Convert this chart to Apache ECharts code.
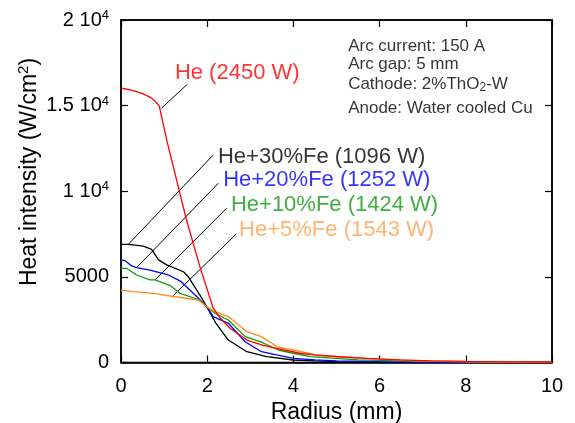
<!DOCTYPE html>
<html><head><meta charset="utf-8">
<script src="https://cdn.jsdelivr.net/npm/echarts@6/dist/echarts.min.js"></script>
<style>html,body{margin:0;padding:0;background:#fff}#c{width:575px;height:423px}</style>
</head><body><div id="c"></div>
<script>
// ---- data ----
const heR   = [0, 0.05, 0.25, 0.5, 0.67, 0.8, 0.89, 1.06, 1.29, 1.52, 1.83, 2.14, 2.3, 2.53, 2.92, 3.3, 3.61, 4.15, 4.5, 5.0, 5.7, 6.47, 7.2, 8.0, 9.0, 10];
const heV   = [16050, 16000, 15900, 15700, 15500, 15250, 14950, 13000, 10660, 8320, 5600, 3170, 2600, 2000, 1310, 1000, 830, 540, 450, 350, 245, 150, 100, 60, 40, 30];
const fe30R = [0, 0.17, 0.52, 0.71, 0.87, 1.06, 1.45, 1.56, 1.83, 1.99, 2.2, 2.49, 2.92, 3.38, 3.99, 4.5, 5.0, 6.0, 7.0, 8.0, 10];
const fe30V = [6900, 6900, 6800, 6610, 5990, 5700, 5300, 5010, 3940, 3260, 2300, 1310, 630, 340, 146, 90, 50, 20, 10, 0, 0];
const fe20R = [0, 0.09, 0.25, 0.36, 0.67, 1.1, 1.4, 1.76, 1.99, 2.14, 2.49, 2.88, 3.26, 3.61, 4.0, 4.5, 5.0, 6.0, 7.6, 10];
const fe20V = [5990, 5950, 5640, 5540, 5400, 5110, 4720, 3840, 3260, 2680, 2290, 1215, 630, 440, 245, 150, 100, 50, 0, 0];
const fe10R = [0, 0.13, 0.25, 0.36, 0.67, 0.79, 1.14, 1.37, 1.83, 1.99, 2.18, 2.49, 2.88, 3.23, 3.65, 4.0, 4.4, 5.5, 6.5, 8.0, 10];
const fe10V = [5500, 5500, 5300, 5110, 4820, 4820, 4490, 4040, 3650, 3260, 2870, 2480, 1510, 1215, 730, 540, 340, 150, 100, 50, 10];
const fe5R  = [0, 0.29, 0.75, 1.25, 1.79, 1.99, 2.18, 2.49, 2.92, 3.26, 3.65, 4.0, 4.6, 5.3, 6.0, 7.0, 8.5, 10];
const fe5V  = [4230, 4140, 4040, 3840, 3650, 3260, 2970, 2680, 1800, 1510, 890, 730, 400, 280, 200, 80, 30, 0];

const seriesNames  = ['He (2450 W)', 'He+30%Fe (1096 W)', 'He+20%Fe (1252 W)', 'He+10%Fe (1424 W)', 'He+5%Fe (1543 W)'];
const seriesColors = ['#ff0000', '#000000', '#0000ff', '#119911', '#ff8c1a'];
const labelColors  = ['#ff0000', '#000000', '#0000ff', '#119911', '#ffa04d'];
// leader lines: [r0, v0, r1, v1]
const leaderR0 = [0.94, 0.17, 0.36, 0.79, 1.21];
const leaderV0 = [14850, 6900, 5540, 4820, 3900];
const leaderR1 = [1.54, 2.14, 2.26, 2.45, 2.67];
const leaderV1 = [16250, 12120, 10470, 9010, 7490];
// label anchors (left-middle)
const labelR = [1.25, 2.25, 2.37, 2.55, 2.74];
const labelV = [16910, 12000, 10660, 9200, 7740];

const xTicks = [0, 2, 4, 6, 8, 10];
const yTickVals = [0, 5000, 10000, 15000, 20000];
const yTickBase = ['0', '5000', '1 10', '1.5 10', '2 10'];
const yTickExp  = ['', '', '4', '4', '4'];

const noteLines = ['Arc current: 150 A', 'Arc gap: 5 mm', '{t|Cathode: 2%ThO}{sub|2}{t|-W}', 'Anode: Water cooled Cu'];
const noteR = [5.27, 5.27, 5.27, 5.27];
const noteV = [18480, 17420, 16250, 14850];

// ---- chart ----
const zip = (a, b) => a.map((x, i) => [x, b[i]]);
const curves = [zip(heR, heV), zip(fe30R, fe30V), zip(fe20R, fe20V), zip(fe10R, fe10V), zip(fe5R, fe5V)];
const FONT = 'Liberation Sans, Arial, sans-serif';

const series = [];
[1, 2, 3, 4, 0].forEach(i => {
  series.push({
    type: 'line', name: seriesNames[i], data: curves[i], showSymbol: false, symbol: 'none',
    lineStyle: { color: seriesColors[i], width: 1.3 }, z: 3, animation: false
  });
});
leaderR0.forEach((r, i) => {
  series.push({
    type: 'line', data: [[r, leaderV0[i]], [leaderR1[i], leaderV1[i]]], showSymbol: false, symbol: 'none',
    lineStyle: { color: '#000', width: 1 }, z: 2, animation: false
  });
});
series.push({
  type: 'scatter', symbolSize: 0, animation: false, silent: true,
  data: labelR.map((r, i) => ({ value: [r, labelV[i]], label: { color: labelColors[i] }, name: seriesNames[i] })),
  label: { show: true, position: 'right', distance: 0, formatter: p => p.name, fontSize: 22, fontFamily: FONT },
  z: 5
});
series.push({
  type: 'scatter', symbolSize: 0, animation: false, silent: true,
  data: noteR.map((r, i) => ({ value: [r, noteV[i]], name: noteLines[i] })),
  label: { show: true, position: 'right', distance: 0, formatter: p => p.name.indexOf('{') === 0 ? p.name : '{t|' + p.name + '}',
    rich: { t: { fontSize: 17, fontFamily: FONT, color: '#000' }, sub: { fontSize: 12, fontFamily: FONT, color: '#000', verticalAlign: 'bottom', padding: [7, 0, 0, 0] } } },
  z: 5
});

const axisLine = () => ({ show: true, onZero: false, lineStyle: { color: '#000', width: 1.5 } });
const tick = () => ({ inside: true, length: 7, lineStyle: { color: '#000', width: 1.2 } });
const option = {
  animation: false,
  grid: { left: 121, right: 23, top: 20, bottom: 60.5, containLabel: false, outerBoundsMode: 'none',
          show: true, borderColor: '#000', borderWidth: 1.5, backgroundColor: 'transparent' },
  xAxis: [
    { type: 'value', min: 0, max: 10, interval: 2, position: 'bottom', axisLine: axisLine(), splitLine: { show: false }, axisTick: tick(),
      axisLabel: { fontSize: 20, fontFamily: FONT, color: '#000', margin: 14, formatter: v => xTicks.includes(v) ? String(v) : '' },
      name: 'Radius (mm)', nameLocation: 'middle', nameGap: 37, nameTextStyle: { fontSize: 23, fontFamily: FONT, color: '#000' } },
    { type: 'value', min: 0, max: 10, interval: 2, position: 'top', axisLine: axisLine(), splitLine: { show: false }, axisTick: tick(), axisLabel: { show: false } }
  ],
  yAxis: [
    { type: 'value', min: 0, max: 20000, interval: 5000, position: 'left', axisLine: axisLine(), splitLine: { show: false }, axisTick: tick(),
      axisLabel: { margin: 12, color: '#000',
        formatter: v => { const i = yTickVals.indexOf(v); if (i < 0) return ''; return yTickExp[i] ? '{n|' + yTickBase[i] + '}{s|' + yTickExp[i] + '}' : '{n|' + yTickBase[i] + '}'; },
        rich: { n: { fontSize: 20, fontFamily: FONT, color: '#000', lineHeight: 22 }, s: { fontSize: 13, fontFamily: FONT, color: '#000', verticalAlign: 'top', lineHeight: 22 } } } },
    { type: 'value', min: 0, max: 20000, interval: 5000, position: 'right', axisLine: axisLine(), splitLine: { show: false }, axisTick: tick(), axisLabel: { show: false } }
  ],
  graphic: [{
    type: 'text', x: 30, y: 172, rotation: Math.PI / 2,
    style: { text: '{t|Heat intensity (W/cm}{s|2}{t|)}', textAlign: 'center', textVerticalAlign: 'middle',
      rich: { t: { fontSize: 23, fontFamily: FONT, fill: '#000', lineHeight: 27 }, s: { fontSize: 15, fontFamily: FONT, fill: '#000', verticalAlign: 'top', lineHeight: 27 } } }
  }],
  series
};
const chart = echarts.init(document.getElementById('c'), null, { renderer: 'canvas' });
chart.setOption(option);
</script></body></html>
